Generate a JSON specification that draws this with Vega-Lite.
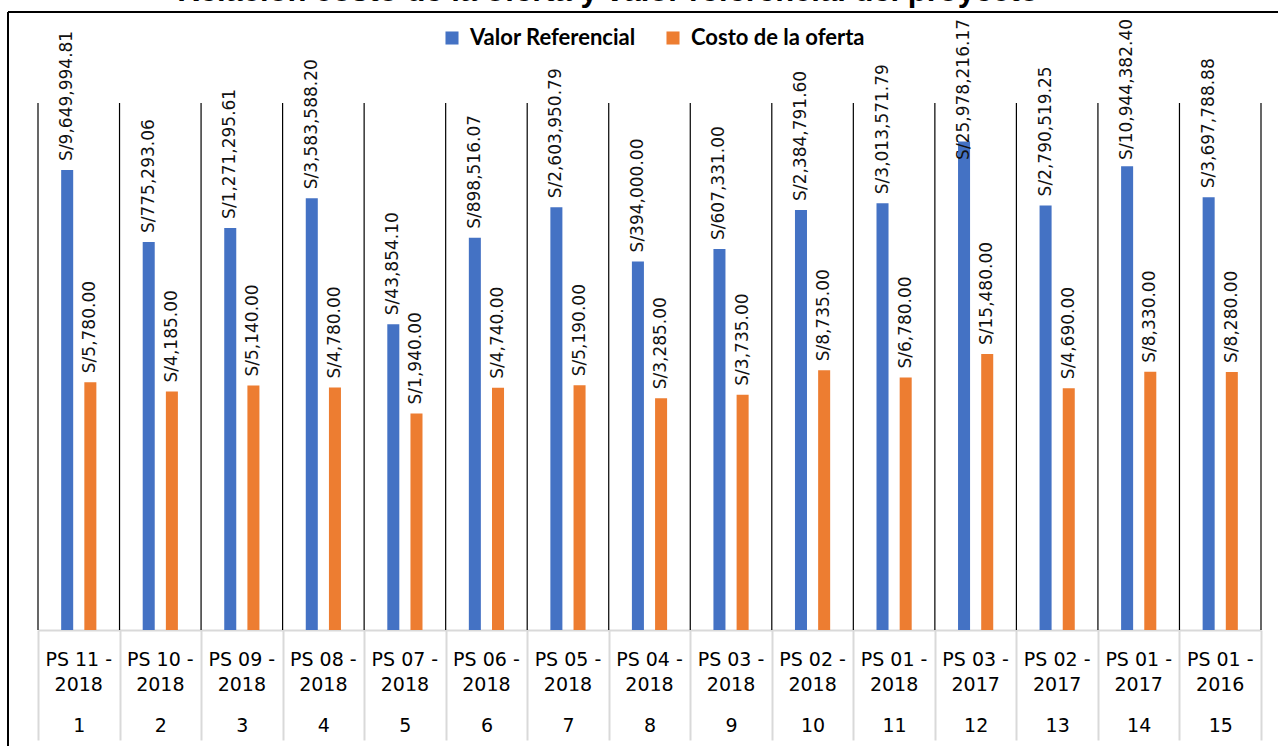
{
  "$schema": "https://vega.github.io/schema/vega-lite/v6.json",
  "width": 1270,
  "height": 734,
  "autosize": {"type": "none"},
  "padding": {"left": 8, "top": 12, "right": 0, "bottom": 0},
  "background": "white",
  "config": {
    "view": {"stroke": "black", "strokeWidth": 2, "strokeDash": [1270, 2004, 734, 0]},
    "font": "DejaVu Sans",
    "locale": {"number": {"decimal": ".", "thousands": ",", "grouping": [3], "currency": ["S/", ""]}}
  },
  "title": {
    "text": "Relación costo de la oferta y valor referencial del proyecto",
    "font": "Liberation Sans",
    "fontSize": 31,
    "fontWeight": "bold",
    "color": "black",
    "anchor": "middle",
    "dx": -35
  },
  "data": {
    "values": [
      {"n": 1, "proyecto": "PS 11 - 2018", "serie": "Valor Referencial", "valor": 9649994.81},
      {"n": 2, "proyecto": "PS 10 - 2018", "serie": "Valor Referencial", "valor": 775293.06},
      {"n": 3, "proyecto": "PS 09 - 2018", "serie": "Valor Referencial", "valor": 1271295.61},
      {"n": 4, "proyecto": "PS 08 - 2018", "serie": "Valor Referencial", "valor": 3583588.20},
      {"n": 5, "proyecto": "PS 07 - 2018", "serie": "Valor Referencial", "valor": 43854.10},
      {"n": 6, "proyecto": "PS 06 - 2018", "serie": "Valor Referencial", "valor": 898516.07},
      {"n": 7, "proyecto": "PS 05 - 2018", "serie": "Valor Referencial", "valor": 2603950.79},
      {"n": 8, "proyecto": "PS 04 - 2018", "serie": "Valor Referencial", "valor": 394000.00},
      {"n": 9, "proyecto": "PS 03 - 2018", "serie": "Valor Referencial", "valor": 607331.00},
      {"n": 10, "proyecto": "PS 02 - 2018", "serie": "Valor Referencial", "valor": 2384791.60},
      {"n": 11, "proyecto": "PS 01 - 2018", "serie": "Valor Referencial", "valor": 3013571.79},
      {"n": 12, "proyecto": "PS 03 - 2017", "serie": "Valor Referencial", "valor": 25978216.17},
      {"n": 13, "proyecto": "PS 02 - 2017", "serie": "Valor Referencial", "valor": 2790519.25},
      {"n": 14, "proyecto": "PS 01 - 2017", "serie": "Valor Referencial", "valor": 10944382.40},
      {"n": 15, "proyecto": "PS 01 - 2016", "serie": "Valor Referencial", "valor": 3697788.88},
      {"n": 1, "proyecto": "PS 11 - 2018", "serie": "Costo de la oferta", "valor": 5780},
      {"n": 2, "proyecto": "PS 10 - 2018", "serie": "Costo de la oferta", "valor": 4185},
      {"n": 3, "proyecto": "PS 09 - 2018", "serie": "Costo de la oferta", "valor": 5140},
      {"n": 4, "proyecto": "PS 08 - 2018", "serie": "Costo de la oferta", "valor": 4780},
      {"n": 5, "proyecto": "PS 07 - 2018", "serie": "Costo de la oferta", "valor": 1940},
      {"n": 6, "proyecto": "PS 06 - 2018", "serie": "Costo de la oferta", "valor": 4740},
      {"n": 7, "proyecto": "PS 05 - 2018", "serie": "Costo de la oferta", "valor": 5190},
      {"n": 8, "proyecto": "PS 04 - 2018", "serie": "Costo de la oferta", "valor": 3285},
      {"n": 9, "proyecto": "PS 03 - 2018", "serie": "Costo de la oferta", "valor": 3735},
      {"n": 10, "proyecto": "PS 02 - 2018", "serie": "Costo de la oferta", "valor": 8735},
      {"n": 11, "proyecto": "PS 01 - 2018", "serie": "Costo de la oferta", "valor": 6780},
      {"n": 12, "proyecto": "PS 03 - 2017", "serie": "Costo de la oferta", "valor": 15480},
      {"n": 13, "proyecto": "PS 02 - 2017", "serie": "Costo de la oferta", "valor": 4690},
      {"n": 14, "proyecto": "PS 01 - 2017", "serie": "Costo de la oferta", "valor": 8330},
      {"n": 15, "proyecto": "PS 01 - 2016", "serie": "Costo de la oferta", "valor": 8280}
    ]
  },
  "resolve": {"scale": {"y": "independent"}},
  "layer": [
    {
      "mark": {"type": "bar"},
      "encoding": {
        "x": {
          "field": "n", "type": "ordinal",
          "scale": {"range": [30, 1253], "paddingInner": 0, "paddingOuter": 0},
          "axis": {
            "orient": "bottom", "offset": -116, "title": null,
            "tickBand": "extent", "ticks": true, "tickSize": 110, "tickColor": "#d9d9d9", "tickWidth": 2,
            "domain": true, "domainColor": "#d9d9d9", "domainWidth": 2,
            "grid": false, "labelAngle": 0, "labelFont": "DejaVu Sans", "labelFontSize": 19,
            "labelColor": "black", "labelPadding": -24, "labelOverlap": false, "labelFlush": false, "labelBound": false
          }
        },
        "xOffset": {
          "field": "serie", "type": "nominal",
          "scale": {"domain": ["Valor Referencial", "Costo de la oferta"], "paddingInner": 0.481, "paddingOuter": 1.17}
        },
        "y": {
          "field": "valor", "type": "quantitative",
          "scale": {"type": "log", "domain": [1, 100000000], "range": [618, 91], "nice": false},
          "axis": null
        },
        "y2": {"datum": 1},
        "color": {
          "field": "serie", "type": "nominal",
          "scale": {"domain": ["Valor Referencial", "Costo de la oferta"], "range": ["#4472C4", "#ED7D31"]},
          "legend": {
            "orient": "none", "legendX": 433, "legendY": 15, "direction": "horizontal", "title": null,
            "symbolType": "square", "symbolSize": 170, "symbolStrokeWidth": 0, "symbolOpacity": 1,
            "labelFont": "Lato", "labelFontSize": 22, "labelFontWeight": "bold", "labelColor": "black",
            "labelLimit": 400, "labelOffset": 7, "columnPadding": 26
          }
        }
      }
    },
    {
      "transform": [{"filter": "datum.serie == 'Valor Referencial'"}],
      "mark": {"type": "rule", "color": "black", "strokeWidth": 1.2},
      "encoding": {
        "x": {"field": "n", "type": "ordinal", "bandPosition": 1, "scale": {"range": [30, 1253], "paddingInner": 0, "paddingOuter": 0}},
        "y": {"datum": 100000000, "type": "quantitative", "scale": {"type": "log", "domain": [1, 100000000], "range": [618, 91], "nice": false}, "axis": null},
        "y2": {"datum": 1}
      }
    },
    {
      "transform": [{"filter": "datum.serie == 'Valor Referencial' && datum.n == 1"}],
      "mark": {"type": "rule", "color": "black", "strokeWidth": 1.2},
      "encoding": {
        "x": {"field": "n", "type": "ordinal", "bandPosition": 0, "scale": {"range": [30, 1253], "paddingInner": 0, "paddingOuter": 0}},
        "y": {"datum": 100000000, "type": "quantitative", "scale": {"type": "log", "domain": [1, 100000000], "range": [618, 91], "nice": false}, "axis": null},
        "y2": {"datum": 1}
      }
    },
    {
      "mark": {"type": "text", "angle": 270, "align": "left", "baseline": "middle", "dx": 9, "font": "DejaVu Sans", "fontSize": 17, "color": "#111111"},
      "encoding": {
        "x": {"field": "n", "type": "ordinal", "scale": {"range": [30, 1253], "paddingInner": 0, "paddingOuter": 0}},
        "xOffset": {
          "field": "serie", "type": "nominal",
          "scale": {"domain": ["Valor Referencial", "Costo de la oferta"], "paddingInner": 0.481, "paddingOuter": 1.17}
        },
        "y": {
          "field": "valor", "type": "quantitative",
          "scale": {"type": "log", "domain": [1, 10000000], "range": [618, 156.875], "nice": false, "clamp": true},
          "axis": null
        },
        "text": {"field": "valor", "type": "quantitative", "format": "$,.2f"}
      }
    },
    {
      "transform": [{"filter": "datum.serie == 'Valor Referencial'"}],
      "mark": {"type": "text", "align": "center", "baseline": "middle", "font": "DejaVu Sans", "fontSize": 19, "lineHeight": 25, "color": "black", "lineBreak": {"expr": "regexp('(?<=-) ')"}},
      "encoding": {
        "x": {"field": "n", "type": "ordinal", "scale": {"range": [30, 1253], "paddingInner": 0, "paddingOuter": 0}},
        "y": {"datum": 0.35, "type": "quantitative", "scale": {"type": "log", "domain": [1, 100000000], "range": [618, 91], "nice": false}, "axis": null},
        "text": {"field": "proyecto", "type": "nominal"}
      }
    }
  ]
}
